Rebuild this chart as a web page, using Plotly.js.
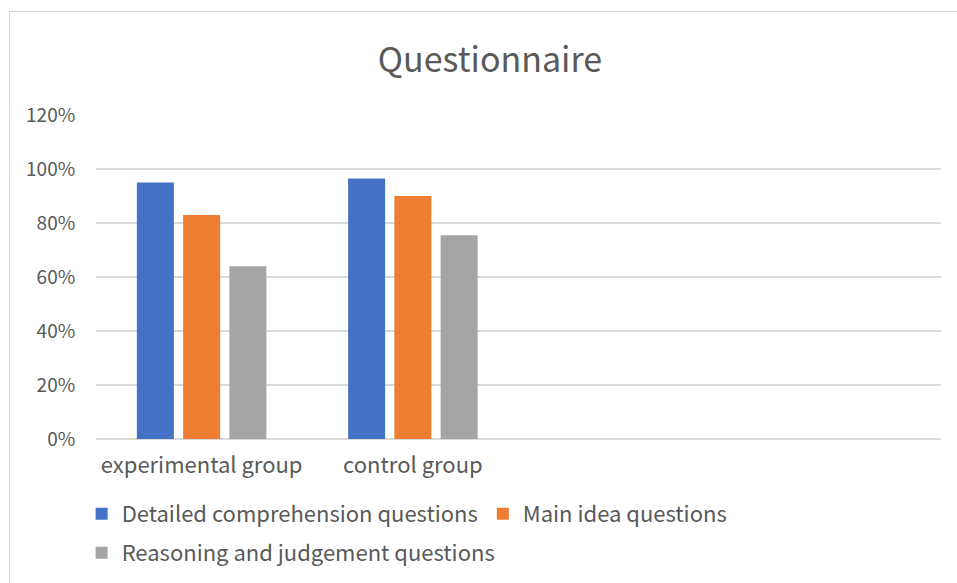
<!DOCTYPE html>
<html>
<head>
<meta charset="utf-8">
<script src="https://cdn.plot.ly/plotly-3.0.1.min.js"></script>
<style>
  html, body { margin: 0; padding: 0; background: #fff; overflow: hidden; }
  #chart { position: absolute; left: 0; top: 0; width: 957px; height: 583px; }
  #frame { position: absolute; left: 9px; top: 11px; width: 970px; height: 600px;
           border: 1.5px solid #d9d9d9; pointer-events: none; }
</style>
</head>
<body>
<div id="chart"></div>
<div id="frame"></div>
<script>
const categories = ["experimental group", "control group"];
const seriesNames = ["Detailed comprehension questions", "Main idea questions", "Reasoning and judgement questions"];
const detailed = [0.95, 0.965];
const mainIdea = [0.83, 0.90];
const reasoning = [0.64, 0.755];
const yTickVals = [0, 0.2, 0.4, 0.6, 0.8, 1.0, 1.2];
const yTickText = ["0%", "20%", "40%", "60%", "80%", "100%", "120%"];

const colors = ["#4472C4", "#ED7D31", "#A5A5A5"];
const FONT = "Noto Sans CJK SC, Noto Sans, sans-serif";
const TXT = "#595959";

const values = [detailed, mainIdea, reasoning];
const legends = ["legend", "legend", "legend2"];
const traces = values.map((v, i) => ({
  type: "bar",
  name: seriesNames[i],
  x: categories,
  y: v,
  marker: { color: colors[i], line: { width: 0 } },
  legend: legends[i],
  hoverinfo: "x+y+name"
}));

const layout = {
  width: 957, height: 583,
  paper_bgcolor: "rgba(0,0,0,0)", plot_bgcolor: "#fff",
  margin: { l: 96, r: 16, t: 115, b: 144, autoexpand: false },
  font: { family: FONT, color: TXT, size: 21 },
  title: { text: "Questionnaire", font: { family: FONT, size: 34, color: TXT },
           x: 0.512, xanchor: "center", y: 1 - 60/583, yanchor: "middle", yref: "container" },
  barmode: "group",
  bargap: 0.343,
  bargroupgap: 0.2,
  xaxis: {
    type: "category",
    categoryorder: "array", categoryarray: categories,
    range: [-0.5, 3.5],
    showgrid: false, zeroline: false, showline: false,
    ticks: "outside", ticklen: 7, tickcolor: "rgba(0,0,0,0)",
    tickfont: { family: FONT, size: 22, color: TXT },
    fixedrange: true
  },
  yaxis: {
    range: [0, 1.2],
    tickvals: yTickVals, ticktext: yTickText,
    showgrid: true, gridcolor: "#d9d9d9", gridwidth: 1.5,
    zeroline: true, zerolinecolor: "#d9d9d9", zerolinewidth: 1.5,
    showline: false,
    ticks: "outside", ticklen: 16, tickcolor: "rgba(0,0,0,0)",
    tickfont: { family: FONT, size: 19, color: TXT },
    fixedrange: true
  },
  showlegend: true,
  legend: {
    orientation: "h", x: -0.017, xanchor: "left", y: -0.231, yanchor: "middle",
    font: { family: FONT, size: 22, color: TXT },
    bgcolor: "rgba(0,0,0,0)", itemwidth: 30, traceorder: "normal"
  },
  legend2: {
    orientation: "h", x: -0.017, xanchor: "left", y: -0.352, yanchor: "middle",
    font: { family: FONT, size: 22, color: TXT },
    bgcolor: "rgba(0,0,0,0)", itemwidth: 30
  }
};

Plotly.newPlot("chart", traces, layout, { displayModeBar: false, staticPlot: false });
</script>
</body>
</html>
